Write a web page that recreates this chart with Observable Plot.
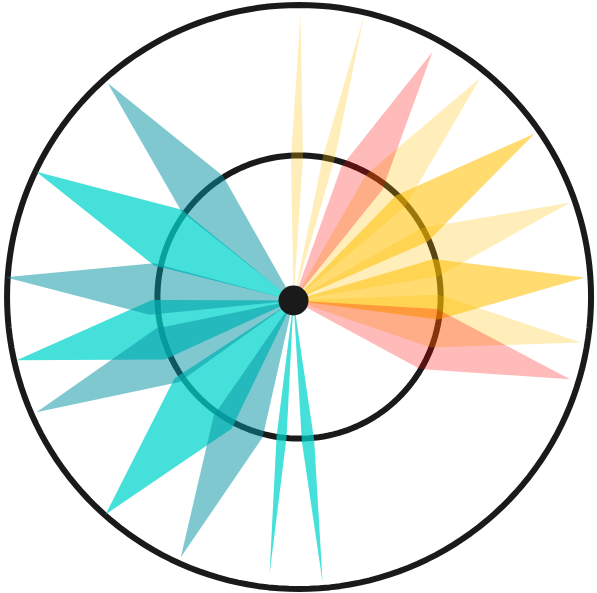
<!DOCTYPE html>
<html>
<head>
<meta charset="utf-8">
<script src="https://cdn.jsdelivr.net/npm/d3@7"></script>
<script src="https://cdn.jsdelivr.net/npm/@observablehq/plot@0.6"></script>
<style>
  html, body { margin: 0; padding: 0; background: #ffffff; }
  #chart svg { display: block; }
</style>
</head>
<body>
<div id="chart"></div>
<script>
// ---- Data (angles in degrees clockwise from north, lengths on a 0–100 scale) ----
const petalNames = ["P1","P2","P3","P4","P5","P6","P7","P8","P9",
                    "Q1","Q2","Q3","Q4","Q5","Q6","Q7","Q8","Q9"];
const petalAngles = [1.4, 13.9, 29.2, 40, 55.3, 70.5, 85.5, 98.3, 105.9,
                     174.1, 185, 203.7, 221.3, 246.5, 257.8, 274.6, 296.6, 319.5];
const petalLengths = [98, 101, 97.5, 99.5, 100.5, 100.5, 100, 99.5, 98.5,
                      97, 94, 96, 97.5, 96, 97, 99, 98.5, 98];
const petalHalfWidths = [2.4, 2.3, 9.5, 10, 11, 10, 12, 10.6, 12.5,
                         2.5, 2.1, 11, 15.5, 12, 12.4, 10.3, 12.5, 11];
const petalGroups = ["light","light","red","light","gold","light","gold","light","red",
                     "teal","teal","deep","teal","deep","teal","deep","teal","deep"];
const ringRadii = [48.5, 100];
const ringCenter = [1.9, 1.2];

// ---- Styles ----
const groupStyles = {
  teal:  {fill: "#00D4CB", opacity: 0.73},
  deep:  {fill: "#0693A3", opacity: 0.51},
  light: {fill: "#FFBF00", opacity: 0.27},
  gold:  {fill: "#FFBF00", opacity: 0.56},
  red:   {fill: "#FF0000", opacity: 0.27}
};
const drawOrder = ["teal", "deep", "light", "gold", "red"];

// ---- Build geometry from the data ----
const rad = Math.PI / 180;
const polar = (a, r) => ({x: r * Math.sin(a * rad), y: r * Math.cos(a * rad)});
const petalPoints = [];
petalNames.forEach((name, i) => {
  const a = petalAngles[i], L = petalLengths[i], w = petalHalfWidths[i], s = 0.5 * L;
  const pts = [{x: 0, y: 0}, polar(a - w, s), polar(a, L), polar(a + w, s)];
  pts.forEach(p => petalPoints.push({...p, id: name, group: petalGroups[i]}));
});
const ringPoints = [];
ringRadii.forEach((r, k) => {
  for (let a = 0; a < 360; a += 2) {
    const p = polar(a, r);
    ringPoints.push({x: p.x + ringCenter[0], y: p.y + ringCenter[1], ring: k});
  }
});

const marks = [
  Plot.line(ringPoints, {x: "x", y: "y", z: "ring", curve: "linear-closed",
    stroke: "#1a1a1a", strokeWidth: 6, fill: "none"})
];
drawOrder.forEach(g => {
  marks.push(Plot.line(petalPoints.filter(d => d.group === g), {
    x: "x", y: "y", z: "id", curve: "linear-closed",
    fill: groupStyles[g].fill, fillOpacity: groupStyles[g].opacity, stroke: "none"
  }));
});
marks.push(Plot.dot([{x: 0, y: 0}], {x: "x", y: "y", r: 15, fill: "#1a1a1a", stroke: "none"}));

const R = 292;
const chart = Plot.plot({
  width: 597,
  height: 593,
  margin: 0,
  x: {domain: [-100, 100], range: [293 - R, 293 + R], axis: null},
  y: {domain: [-100, 100], range: [300 + R, 300 - R], axis: null},
  style: {background: "#ffffff"},
  marks
});
document.getElementById("chart").appendChild(chart);
</script>
</body>
</html>
